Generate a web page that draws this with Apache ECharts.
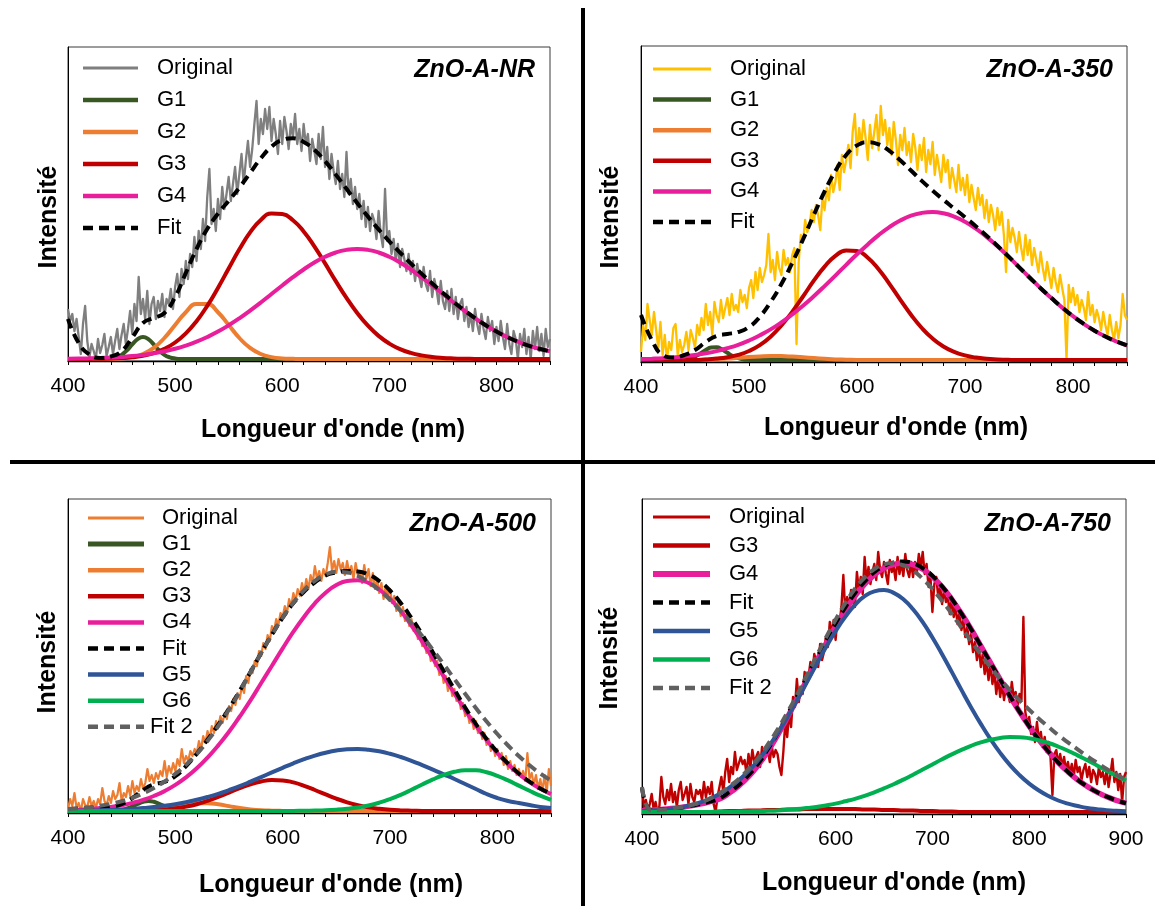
<!DOCTYPE html>
<html><head><meta charset="utf-8">
<script src="https://cdn.jsdelivr.net/npm/echarts@6/dist/echarts.min.js"></script>
<style>html,body{margin:0;padding:0;background:#fff}#c{width:1155px;height:906px}</style>
</head><body><div id="c"></div><script>
// ---------- wavelength sampling grids (nm) ----------
function wl(a, b, s) { const r = []; for (let x = a; x <= b + 1e-9; x += s) r.push(x); return r; }
const WL2 = wl(400, 850, 2);       // raw spectra, panels NR/350/500
const WL10 = wl(400, 850, 10);     // fitted curves, panels NR/350/500
const WL2_750 = wl(400, 900, 2);   // raw spectrum, panel 750
const WL10_750 = wl(400, 900, 10); // fitted curves, panel 750
const X_TICKS_A = [400, 500, 600, 700, 800];
const X_TICKS_D = [400, 500, 600, 700, 800, 900];

// ---------- ZnO-A-NR ----------
const NR_ORIGINAL = [
 50,38,45,28,40,22,5,35,53,18, 2,15,8,0,20,6,14,25,3,12, 22,5,18,30,10,24,35,15,30,48, 25,55,38,82,45,60,40,68,35,55,
 62,40,58,48,65,42,60,55,70,50, 72,85,62,90,75,98,80,105,92,122, 98,128,110,140,118,162,190,135,150,128, 160,140,172,150,165,182,158,175,192,165,
 185,205,175,198,218,192,210,235,258,215, 240,225,250,230,252,218,240,225,205,238, 215,242,228,210,235,222,245,215,230,208, 235,215,225,198,220,208,195,225,200,232,
 192,212,180,205,188,175,198,170,185,162, 207,165,180,155,172,150,165,140,158,132, 152,128,145,138,120,148,125,112,170,118, 128,105,120,98,115,92,110,100,88,105,
 85,98,78,95,82,72,92,75,68,88, 62,80,70,55,78,58,50,68,48,70, 45,62,40,55,60,38,52,32,45,28, 50,35,25,45,30,20,42,28,38,15,
 32,18,38,22,10,35,15,5,28,20, 0,25,12,30,5,22,0,28,10,32, 8,25,3,30,12, 20];
const NR_G1_X = [400,430,440,445,450,455,460,465,470,475,480,485,490,495,500,505,850];
const NR_G1 = [0,0,0.5,1.7,4.2,8.7,14.6,19.9,22,19.9,14.6,8.7,4.2,1.7,0.5,0,0];
const NR_G2 = [0,0,0,0,0,0.6,1.9,5,11.1,21, 34,46.8,54.9,54.9,46.8,34,21,11.1,5,1.9, 0.6,0.2,0,0,0,0,0,0,0,0, 0,0,0,0,0,0,0,0,0,0, 0,0,0,0,0,0];
const NR_G3 = [0,0,0.1,0.2,0.4,0.9,1.7,3.3,5.9,10.1, 16.5,25.6,37.8,53.1,71.1,90.5,109.7,126.6,139.1,145.4, 144.9,138.7,127.6,112.7,95.6,77.9,61.1,46,33.3,23.1, 15.4,9.9,6.1,3.6,2,1.1,0.6,0.3,0.1,0, 0,0,0,0,0,0];
const NR_G4 = [0.3,0.4,0.65,1,1.4,2.1,2.9,4.1,5.6,7.7, 10.2,13.4,17.3,22,27.4,33.7,40.7,48.4,56.5,65, 73.5,81.8,89.5,96.5,102.2,106.5,109.1,110,109.1,106.5, 102.2,96.5,89.5,81.8,73.5,65,56.5,48.4,40.7,33.7, 27.4,22,17.3,13.4,10.2,7.7];
const NR_FIT = [40,16,4.5,1,2.5,7.8,21.5,36,41,46, 62,86,110,130,145.3,158.2,171.4,186.1,200.6,212.3, 219,220.7,217.1,209.2,197.8,184.4,170.2,156,142.4,129.6, 117.6,106.4,95.6,85.4,75.5,66.1,57.1,48.7,40.8,33.7, 27.4,22,17.3,13.4,10.2,7.7];

// ---------- ZnO-A-350 ----------
const A350_ORIGINAL = [
 8,35,20,56,40,25,48,30,12,38, 5,25,0,18,10,32,36,5,20,8, 15,28,10,30,22,12,35,25,42,30, 56,35,48,25,58,45,38,60,42,52,
 62,45,66,50,55,48,70,58,65,52, 72,80,62,88,70,92,78,85,95,126, 88,100,80,108,92,85,110,95,102,88, 105,112,16,98,125,118,140,128,135,150,
 138,155,145,130,162,150,172,160,185,168, 178,195,170,205,188,200,215,192,228,246, 205,232,215,240,222,200,235,212,228,245, 210,254,225,240,215,232,205,238,220,195,
 225,210,232,205,218,198,226,212,190,215, 200,222,188,210,196,218,185,205,192,178, 205,188,200,172,192,180,168,195,170,182, 165,185,158,175,162,150,172,155,165,142,
 160,138,155,145,130,152,135,148,125,88, 140,118,132,122,108,128,112,100,125,105, 120,95,112,100,88,108,92,80,98,85, 72,92,78,68,85,72,60,0,75,58,
 72,55,65,48,60,52,40,68,45,55, 38,50,42,30,48,35,25,45,30,20, 38,22,35,66,45, 40];
const A350_G1_X = [400,430,440,445,450,455,460,465,470,475,480,485,490,495,500,505,850];
const A350_G1 = [0,0,0.5,1.5,3.4,6.5,10,12.5,12.8,10.6,7.2,4,1.8,0.6,0.2,0,0];
const A350_G2 = [0,0,0,0,0,0,0.4,1,1.4,2.2, 3,3.6,4,3.9,3.4,2.7,1.9,1.2,0.6,0.3, 0,0,0,0,0,0,0,0,0,0, 0,0,0,0,0,0,0,0,0,0, 0,0,0,0,0,0];
const A350_G3 = [0,0,0,0,0,0,0.5,1.4,2.8,5.1, 9,14.9,23.3,34.5,48.1,63.5,79.3,93.4,104.1,109.5, 108.9,102.3,90.8,76.2,60.4,45.2,32,21.4,13.5,8.1, 4.6,2.4,1.2,0.6,0.2,0,0,0,0,0, 0,0,0,0,0,0];
const A350_G4 = [0.9,1.3,1.8,2.6,3.6,4.9,6.7,8.9,11.8,15.2, 19.5,24.7,30.6,37.6,45.6,54.3,63.8,73.9,84.4,95.2, 105.7,115.6,124.9,132.9,139.4,144.3,147.1,148,146.7,143.4, 138.2,131.4,123.1,113.7,103.6,92.9,82.3,71.8,61.9,52.4, 43.8,36.1,29.3,23.5,18.6,14.5];
const A350_FIT = [45,20,5,2.5,5,10,18,24,26,28, 33,43.2,57.9,76,97.1,120.5,145,168.5,189.1,205, 214.6,217.9,215.7,209.1,199.8,189.5,179.1,169.4,160.2,151.5, 142.8,133.8,124.3,114.3,103.8,92.9,82.3,71.8,61.9,52.4, 43.8,36.1,29.3,23.5,18.6,14.5];

// ---------- ZnO-A-500 ----------
const A500_ORIGINAL = [
 2,12,5,18,3,8,0,12,6,4, 14,5,10,3,12,7,23,10,6,15, 8,20,12,16,28,10,18,14,25,15, 30,18,25,20,32,22,28,42,30,36,
 28,38,32,40,35,50,34,45,38,48, 40,52,45,62,48,55,50,60,55,62, 58,70,62,75,68,80,72,85,78,90, 84,95,88,98,92,105,100,112,106,118,
 112,125,118,135,128,142,138,150,145,160, 155,168,162,176,170,185,180,192,186,198, 194,205,198,212,205,218,210,222,215,228, 218,232,222,236,228,245,232,240,230,242,
 235,248,264,240,250,238,252,242,248,236, 250,238,245,232,248,236,240,228,246,232, 242,225,238,222,232,218,228,212,225,215, 222,208,215,200,210,195,204,190,198,185,
 192,180,186,172,178,165,170,158,164,150, 156,145,150,136,142,128,135,120,128,115, 122,110,115,102,108,95,100,88,94,82, 90,78,84,72,78,66,72,60,66,55,
 62,52,58,46,55,42,50,40,46,36, 42,34,40,30,58,32,38,26,36,22, 32,20,36,18,42, 25];
const A500_G1_X = [400,440,445,450,455,460,465,470,475,480,485,490,495,500,505,510,515,850];
const A500_G1 = [0,0.1,0.4,1.1,2.5,4.6,7.1,9.2,10,9.2,7.1,4.6,2.5,1.1,0.4,0.1,0,0];
const A500_G2 = [0,0,0,0,0,0,0.3,0.7,1.6,3, 4.9,6.7,7.8,7.8,6.7,4.9,3,1.6,0.7,0.3, 0.1,0,0,0,0,0,0,0,0,0, 0,0,0,0,0,0,0,0,0,0, 0,0,0,0,0,0];
const A500_G3 = [0,0,0,0,0,0,0,0,0.8,1.6, 2.7,4.4,6.8,10.1,14,18.4,22.8,26.7,29.5,30.9, 30.6,28.6,25.2,21,16.6,12.3,8.7,5.8,3.6,2.2, 1.2,0.6,0.3,0.1,0,0,0,0,0,0, 0,0,0,0,0,0];
const A500_G4 = [0.9,1.3,2,2.9,4.1,5.8,8.1,11.1,15,19.9, 26.1,33.7,42.7,53.4,65.6,79.2,94.5,110.6,128,145.3, 162.6,179.3,194.3,207.7,218.3,225.9,230.1,230.8,228,221.5, 212.1,200,185.5,169.3,152.2,134.9,117.6,100.9,85.2,70.9, 58,46.7,37,28.9,22.2,16.9];
const A500_FIT = [2,2.2,2.6,3.3,4.3,6.9,13,21,26.6,29.1, 34.8,44.9,57.3,71.3,86.3,102.5,120.3,138.9,158.2,176.5, 193.3,207.9,219.5,228.7,235.5,238.5,240,239.5,236.5,230, 220.5,208,193,176.5,158.5,140,121.5,103.5,87,72, 59,47.5,37.5,29.3,22.5,17.2];
const A500_G5 = [0.2,0.3,0.5,0.7,1.1,1.5,2.1,2.9,3.9,5.2, 6.8,8.8,11.2,14,17.2,20.9,24.9,29.3,33.9,38.6, 43.2,47.7,51.8,55.4,58.3,60.5,61.7,62,61.3,59.7, 57.2,54,50.2,45.9,41.4,36.7,32,27,22,17, 13,10,8,6,4,3];
const A500_G6 = [0,0,0,0,0,0,0,0,0,0, 0,0,0,0,0,0,0,0,0,0, 0,0.1,0.2,0.4,0.7,1.3,2.2,3.5,5.5,8.3, 11.9,16.2,21.2,26.5,31.6,36,39.2,40.8,40.7,38.7, 35.2,30.6,25.4,20.2,15.3,11.1];
const A500_FIT2 = [2,2.8,3.8,5.2,7.2,9.8,13.2,17.6,23,29.5, 37.2,46.4,57.2,70,84.8,101.5,119.6,138.8,158,176.4, 193.4,208.4,220.8,230.2,236.4,239.2,238.6,235,228.8,220.7, 211,200,188,175,161.2,146.8,132,117.3,103,89.5, 77,65.5,55,45.7,37.5,30.5];

// ---------- ZnO-A-750 ----------
const A750_ORIGINAL = [
 25,5,12,0,8,18,3,10,0,6, 35,15,8,22,12,28,10,20,5,22, 30,12,18,25,8,28,15,10,22,18, 22,12,30,15,25,18,30,8,0,15,
 25,35,20,40,53,30,45,38,60,42, 40,55,48,52,38,58,45,62,50,55, 60,45,65,52,58,62,50,66,55,62, 58,45,37,60,90,75,100,85,115,105,
 133,110,125,118,140,128,135,150,140,158, 150,145,168,152,160,175,165,190,178,192, 172,195,188,205,237,200,215,205,222,210, 205,240,222,235,218,255,230,245,228,240,
 248,232,260,242,235,250,238,228,252,240, 245,232,255,238,250,236,258,242,235,250, 235,250,240,258,245,260,238,248,225,235, 200,228,235,215,225,208,222,210,215,198,
 215,195,205,188,200,182,192,175,185,168, 178,160,170,152,165,145,158,138,150,132, 148,128,140,118,135,115,128,112,125,118, 110,130,115,120,105,118,112,195,100,88,
 95,78,85,70,90,72,80,65,75,60, 70,55,17,58,62,48,58,45,55,42, 50,38,48,35,52,40,45,32,42,48, 35,45,30,42,38,28,45,35,40,28,
 42,25,38,53,30,40,22,38,10,35, 40];
const A750_G3 = [0,0,0,0,0,0,0,0,0.5,1, 1,1.5,1.5,2,2,2.5,2.5,3,3,3, 3,3,3,2.5,2.5,2,2,1.5,1.5,1, 1,0.5,0.5,0,0,0,0,0,0,0, 0,0,0,0,0,0,0,0,0,0, 0];
const A750_G4 = [1.3,1.8,2.5,3.4,4.6,6.1,8,10.3,13,18.8, 26.1,35.3,46.8,60.7,76.7,94.3,112.8,131.6,150.2,168.3, 185.6,201.6,215.8,227.8,237.2,243.8,247.6,248.9,247.4,242.8, 235.3,225.1,212.7,198.4,182.8,166.2,149.3,132.5,116,100.3, 85.7,72.3,60.2,49.5,40.2,32.2,25.5,19.9,15.4,11.7, 8.8];
const A750_FIT = [24,1.8,2.5,3.4,4.6,6.1,8,10.3,13.5,19.8, 27.1,36.8,48.3,62.7,78.7,96.8,115.3,134.6,153.2,171.3, 188.6,204.6,218.8,230.3,239.7,245.8,249.6,250.4,248.9,243.8, 236.3,225.6,213.2,198.4,182.8,166.2,149.3,132.5,116,100.3, 85.7,72.3,60.2,49.5,40.2,32.2,25.5,19.9,15.4,11.7, 8.8];
const A750_G5 = [0.9,1.4,2.2,3.3,4.7,6.8,9.5,13.3,18,24.2, 31.7,40.8,51.7,64.4,78.8,94.6,111.4,129.2,147.2,164.7, 180.9,195.1,207.1,215.8,220.7,222,219.1,212.7,202.7,189.8, 174.5,157.8,140.1,122.1,104.6,88.1,72.8,59.1,47.1,36.9, 28.4,21.5,16,11.5,8.4,6,4,2.8,1.8,1.2, 0.8];
const A750_G6 = [0,0,0,0,0,0,0,0.1,0.2,0.3, 0.4,0.6,0.8,1.2,1.6,2.2,2.9,3.9,5.1,6.6, 8.4,10.7,13.2,16.2,19.7,23.6,27.8,32.4,37.3,42.4, 47.6,52.7,57.6,62.1,66.2,69.6,72.3,74,74.9,74.8, 73.8,71.8,69,65.4,61.3,56.6,51.7,46.5,41.3,36.3, 31.4];
const A750_FIT2 = [25,1.4,2.2,3.3,4.7,6.8,9.5,13.4,18.7,25.5, 33.1,42.9,54,67.6,82.4,99.3,116.8,136.1,155.3,174.3, 192.3,208.8,223.3,234.5,242.9,247.6,248.9,246.6,241.5,233.2, 223.1,211,198.2,184.2,170.8,157.7,145.1,133.1,122,111.7, 102.2,93.3,85,76.9,69.7,62.6,55.7,49.3,43.1,37.5, 32.2];

// ---------- text ----------
const PANEL_LABELS = ['ZnO-A-NR', 'ZnO-A-350', 'ZnO-A-500', 'ZnO-A-750'];
const X_TITLE = "Longueur d'onde (nm)";
const Y_TITLE = 'Intensité';

// ---------- styles ----------
const C = { orig: '#7f7f7f', g1: '#385723', g2: '#ED7D31', g3: '#C00000', g4: '#E91E9B', fit: '#000000',
  yellow: '#FFC000', g5: '#2F5597', g6: '#00B050', fit2: '#606060' };
const DASH = [10, 6];
const FONT = '"Liberation Sans", Arial, sans-serif';

// ---------- layout ----------
const LAYOUT = [
  { grid: { left: 68, top: 47, width: 482, height: 314 }, xmax: 850, ticks: X_TICKS_A,
    legend: { x1: 83, x2: 138, tx: 157, y0: 68, dy: 32 }, label: [535, 70], xt: [333, 430], yt: [49, 217] },
  { grid: { left: 641, top: 46, width: 486, height: 316 }, xmax: 850, ticks: X_TICKS_A,
    legend: { x1: 653, x2: 711, tx: 730, y0: 69, dy: 30.6 }, label: [1113, 70], xt: [896, 428], yt: [611, 217] },
  { grid: { left: 68, top: 499, width: 483, height: 314 }, xmax: 850, ticks: X_TICKS_A,
    legend: { x1: 88, x2: 144, tx: 162, y0: 518, dy: 26.1 }, label: [536, 524], xt: [331, 885], yt: [48, 662] },
  { grid: { left: 642, top: 499, width: 484, height: 315 }, xmax: 900, ticks: X_TICKS_D,
    legend: { x1: 653, x2: 710, tx: 729, y0: 517, dy: 28.5 }, label: [1111, 524], xt: [894, 883], yt: [610, 658] },
];

function pairs(xs, ys) { return xs.map((x, i) => [x, ys[i]]); }
function S(name, color, width, xs, ys, o = {}) {
  return { name, color, width, xs, ys, dash: o.dash || null, smooth: o.smooth !== false, lw: o.lw || width, tx: o.tx };
}
const PANELS = [
  [ S('Original', C.orig, 2.3, WL2, NR_ORIGINAL, { smooth: false, lw: 3 }),
    S('G1', C.g1, 4, NR_G1_X, NR_G1, { lw: 4.5 }),
    S('G2', C.g2, 4, WL10, NR_G2, { lw: 4.5 }),
    S('G3', C.g3, 4, WL10, NR_G3, { lw: 4.5 }),
    S('G4', C.g4, 4, WL10, NR_G4, { lw: 4.5 }),
    S('Fit', C.fit, 4, WL10, NR_FIT, { dash: DASH, lw: 4.5 }) ],
  [ S('Original', C.yellow, 2.3, WL2, A350_ORIGINAL, { smooth: false, lw: 3 }),
    S('G1', C.g1, 4, A350_G1_X, A350_G1, { lw: 4.5 }),
    S('G2', C.g2, 4, WL10, A350_G2, { lw: 4.5 }),
    S('G3', C.g3, 4, WL10, A350_G3, { lw: 4.5 }),
    S('G4', C.g4, 4, WL10, A350_G4, { lw: 4.5 }),
    S('Fit', C.fit, 4, WL10, A350_FIT, { dash: DASH, lw: 4.5 }) ],
  [ S('Original', C.g2, 2.2, WL2, A500_ORIGINAL, { smooth: false, lw: 3 }),
    S('G1', C.g1, 4, A500_G1_X, A500_G1, { lw: 5 }),
    S('G2', C.g2, 4, WL10, A500_G2, { lw: 4.5 }),
    S('G3', C.g3, 4, WL10, A500_G3, { lw: 4.5 }),
    S('G4', C.g4, 4, WL10, A500_G4, { lw: 4.5 }),
    S('Fit', C.fit, 4, WL10, A500_FIT, { dash: DASH, lw: 4.5 }),
    S('G5', C.g5, 4, WL10, A500_G5, { lw: 4.5 }),
    S('G6', C.g6, 4, WL10, A500_G6, { lw: 4.5 }),
    S('Fit 2', C.fit2, 4, WL10, A500_FIT2, { dash: DASH, lw: 4.5, tx: 150 }) ],
  [ S('Original', C.g3, 2.4, WL2_750, A750_ORIGINAL, { smooth: false, lw: 3 }),
    S('G3', C.g3, 4, WL10_750, A750_G3, { lw: 4.5 }),
    S('G4', C.g4, 5.5, WL10_750, A750_G4, { lw: 6 }),
    S('Fit', C.fit, 4, WL10_750, A750_FIT, { dash: DASH, lw: 4.5 }),
    S('G5', C.g5, 4, WL10_750, A750_G5, { lw: 4.5 }),
    S('G6', C.g6, 4, WL10_750, A750_G6, { lw: 4.5 }),
    S('Fit 2', C.fit2, 4, WL10_750, A750_FIT2, { dash: DASH, lw: 4.5 }) ],
];

const grids = [], xAxes = [], yAxes = [], series = [], graphics = [];
LAYOUT.forEach((L, gi) => {
  grids.push(Object.assign({ show: true, borderColor: '#3a3a3a', borderWidth: 1, backgroundColor: 'transparent', containLabel: false }, L.grid));
  xAxes.push({ gridIndex: gi, type: 'value', min: 400, max: L.xmax, interval: 20,
    axisLine: { show: true, onZero: false, lineStyle: { color: '#000', width: 1.3 } },
    axisTick: { show: true, length: 4, lineStyle: { color: '#000', width: 1 } },
    axisLabel: { interval: 0, margin: 15, color: '#000', fontSize: 21, fontFamily: FONT,
      formatter: v => (L.ticks.indexOf(v) >= 0 ? String(v) : '') },
    splitLine: { show: false } });
  yAxes.push({ gridIndex: gi, type: 'value', min: -2, max: L.grid.height - 2,
    axisLine: { show: true, lineStyle: { color: '#000', width: 1 } },
    axisTick: { show: false }, axisLabel: { show: false }, splitLine: { show: false } });
  PANELS[gi].forEach((s, k) => {
    series.push({ name: s.name + ' ' + PANEL_LABELS[gi], type: 'line', xAxisIndex: gi, yAxisIndex: gi,
      data: pairs(s.xs, s.ys), showSymbol: false, symbol: 'none', smooth: s.smooth ? 0.5 : false,
      lineStyle: { color: s.color, width: s.width, type: s.dash || 'solid', cap: 'butt', join: 'round' },
      itemStyle: { color: s.color }, z: 2 + k, silent: true, emphasis: { disabled: true } });
    const y = L.legend.y0 + k * L.legend.dy;
    graphics.push({ type: 'line', silent: true, z: 50,
      shape: { x1: L.legend.x1, y1: y, x2: L.legend.x2, y2: y },
      style: { stroke: s.color, lineWidth: s.lw, lineDash: s.dash || null, lineCap: 'butt' } });
    graphics.push({ type: 'text', silent: true, z: 50, x: s.tx || L.legend.tx, y: y,
      style: { text: s.name, fill: '#000', fontSize: 22, fontFamily: FONT, textAlign: 'left', textVerticalAlign: 'middle' } });
  });
  graphics.push({ type: 'text', silent: true, z: 50, x: L.label[0], y: L.label[1],
    style: { text: PANEL_LABELS[gi], fill: '#000', fontSize: 25, fontWeight: 'bold', fontStyle: 'italic', fontFamily: FONT,
      textAlign: 'right', textVerticalAlign: 'middle' } });
  graphics.push({ type: 'text', silent: true, z: 50, x: L.xt[0], y: L.xt[1],
    style: { text: X_TITLE, fill: '#000', fontSize: 25, fontWeight: 'bold', fontFamily: FONT,
      textAlign: 'center', textVerticalAlign: 'middle' } });
  graphics.push({ type: 'text', silent: true, z: 50, x: L.yt[0], y: L.yt[1], rotation: Math.PI / 2,
    style: { text: Y_TITLE, fill: '#000', fontSize: 25, fontWeight: 'bold', fontFamily: FONT,
      textAlign: 'center', textVerticalAlign: 'middle' } });
});
graphics.push({ type: 'line', silent: true, z: 60, shape: { x1: 583, y1: 8, x2: 583, y2: 906 }, style: { stroke: '#000', lineWidth: 4 } });
graphics.push({ type: 'line', silent: true, z: 60, shape: { x1: 10, y1: 462, x2: 1155, y2: 462 }, style: { stroke: '#000', lineWidth: 4 } });

const chart = echarts.init(document.getElementById('c'), null, { renderer: 'canvas' });
chart.setOption({ animation: false, backgroundColor: '#fff', grid: grids, xAxis: xAxes, yAxis: yAxes, series, graphic: { elements: graphics } });
</script></body></html>
